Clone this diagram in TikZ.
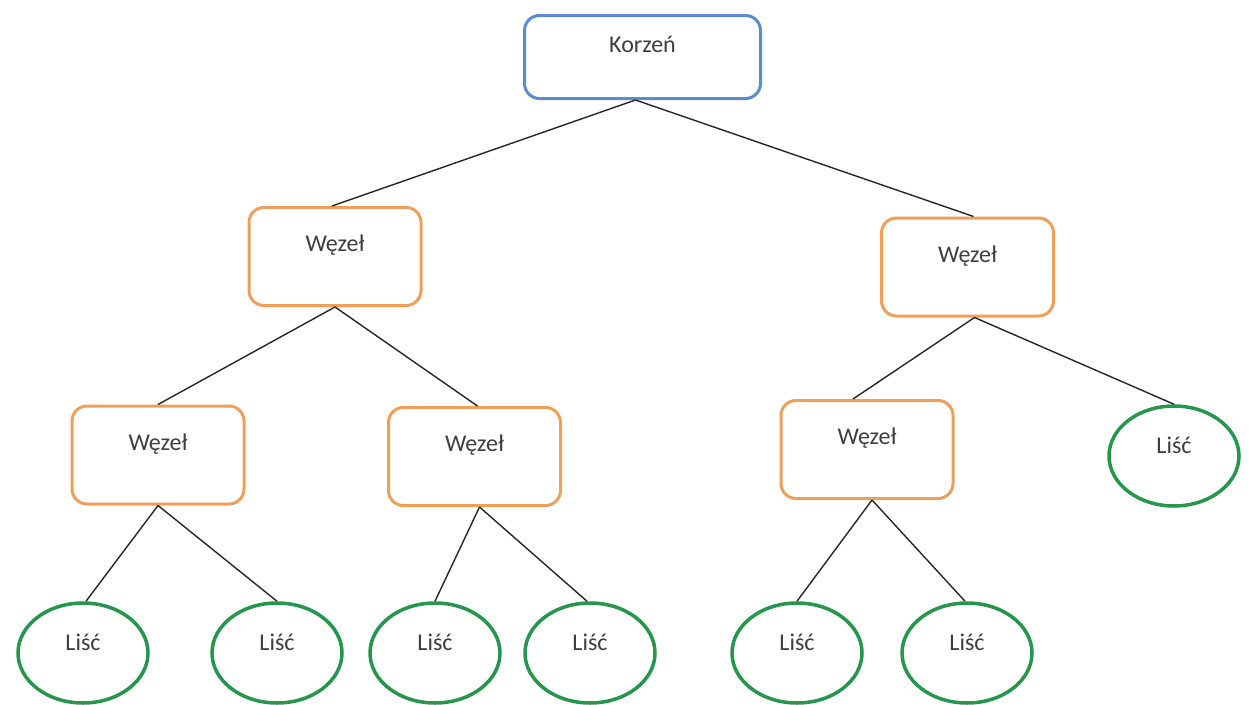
\documentclass[tikz,border=0pt]{standalone}
\usepackage{fontspec}
\setmainfont{Carlito}
\usetikzlibrary{shapes.geometric}
\definecolor{rootblue}{RGB}{92,140,205}
\definecolor{nodeorange}{RGB}{236,160,92}
\definecolor{leafgreen}{RGB}{38,150,76}
\definecolor{txtgray}{RGB}{62,62,62}
\tikzset{
  base/.style={font=\fontsize{24}{28}\selectfont, text=txtgray, text height=16pt, text depth=26pt, fill=white},
  rootbox/.style={base, draw=rootblue, line width=3pt, rounded corners=15pt, minimum width=236pt, minimum height=83pt},
  innerbox/.style={base, draw=nodeorange, line width=3pt, rounded corners=15pt, minimum width=172pt, minimum height=98pt},
  leafnode/.style={base, ellipse, draw=leafgreen, line width=3.5pt, minimum width=130pt, minimum height=100pt, text depth=22pt},
  edge/.style={draw=black!85, line width=1.4pt}
}
\begin{document}
\begin{tikzpicture}[x=1pt,y=-1pt]
\useasboundingbox[fill=white] (0,0) rectangle (1250,704);
% edges first (drawn below nodes)
\coordinate (root) at (642.5,57);
\coordinate (l1) at (335,256.5);
\coordinate (r1) at (967.5,267);
\coordinate (ll) at (158,455);
\coordinate (lr) at (474.5,456.5);
\coordinate (rl) at (867,449.5);

\node[rootbox] (root) at (642.5,57) {Korzeń};
\node[innerbox] (l1) at (335,256.5) {Węzeł};
\node[innerbox] (r1) at (967.5,267) {Węzeł};
\node[innerbox] (ll) at (158,455) {Węzeł};
\node[innerbox] (lr) at (474.5,456.5) {Węzeł};
\node[innerbox] (rl) at (867,449.5) {Węzeł};
\node[leafnode] (lfr) at (1174,456) {Liść};
\node[leafnode] (lf1) at (83,653) {Liść};
\node[leafnode] (lf2) at (277,653) {Liść};
\node[leafnode] (lf3) at (435,653) {Liść};
\node[leafnode] (lf4) at (590,653) {Liść};
\node[leafnode] (lf5) at (797,653) {Liść};
\node[leafnode] (lf6) at (967,653) {Liść};

\draw[edge] ([xshift=-7pt]root.south) -- ([xshift=-3pt]l1.north);
\draw[edge] ([xshift=-7pt]root.south) -- ([xshift=6pt]r1.north);
\draw[edge] (l1.south) -- (ll.north);
\draw[edge] (l1.south) -- ([xshift=3pt]lr.north);
\draw[edge] ([xshift=7pt]r1.south) -- ([xshift=-14pt]rl.north);
\draw[edge] ([xshift=7pt]r1.south) -- (lfr.north);
\draw[edge] (ll.south) -- ([xshift=3pt]lf1.north);
\draw[edge] (ll.south) -- (lf2.north);
\draw[edge] ([xshift=5pt]lr.south) -- (lf3.north);
\draw[edge] ([xshift=5pt]lr.south) -- ([xshift=-3pt]lf4.north);
\draw[edge] ([xshift=5pt]rl.south) -- (lf5.north);
\draw[edge] ([xshift=5pt]rl.south) -- ([xshift=-2pt]lf6.north);
\end{tikzpicture}
\end{document}
